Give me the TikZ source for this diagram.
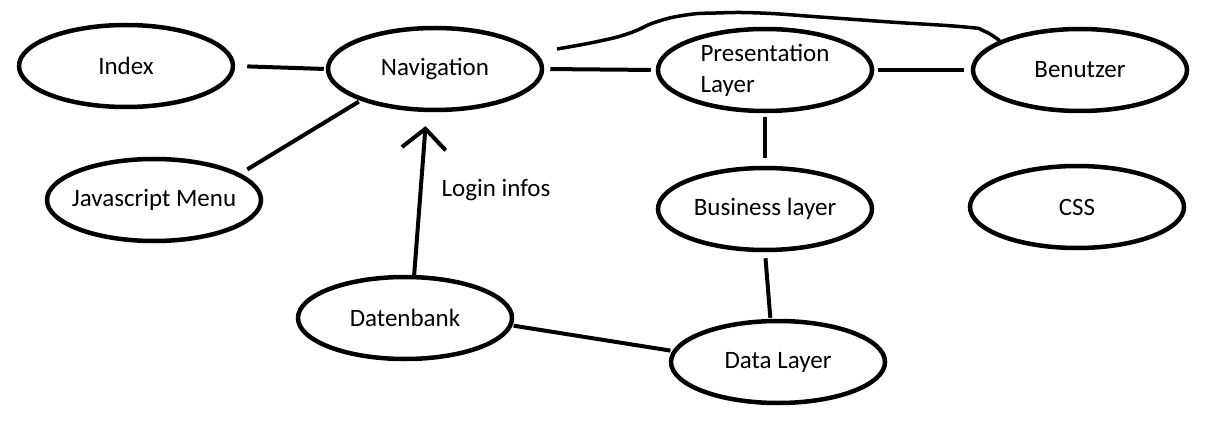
\documentclass[tikz,border=0pt]{standalone}
\usepackage{fontspec}
\setmainfont{Carlito}
\usetikzlibrary{arrows.meta,shapes.geometric}

\begin{document}
\begin{tikzpicture}[x=1pt,y=-1pt,line width=4pt,>={Straight Barb[length=20pt,width=44pt]},
  burbuja/.style={draw,ellipse,line width=4.5pt,minimum width=214pt,minimum height=82pt,
    inner xsep=-30pt,inner ysep=0pt,align=left,font=\fontsize{25}{31}\selectfont}]
  \useasboundingbox (0,0) rectangle (1214,422);
  % capas y modulos
  \node[burbuja] (idx) at (126,66){Index};
  \node[burbuja] (nav) at (435,69){Navigation};
  \node[burbuja] (js) at (154,200){Javascript Menu};
  \node[burbuja] (pres) at (765,70){Presentation\\Layer};
  \node[burbuja] (ben) at (1080,70){Benutzer};
  \node[burbuja] (bus) at (765,209){Business layer};
  \node[burbuja] (css) at (1077,207){CSS};
  \node[burbuja] (dat) at (405,318){Datenbank};
  \node[burbuja] (data) at (778,362){Data Layer};
  % lineas entre nodos
  \draw[shorten <=12pt,shorten >=2pt] (idx.0) -- (nav.180);
  \draw[shorten <=8pt,shorten >=2pt] (js.17) -- (nav.203);
  \draw[shorten <=6pt,shorten >=5pt] (nav.0) -- (pres.180);
  \draw[shorten <=4pt,shorten >=7pt] (pres.0) -- (ben.180);
  \draw[shorten <=4pt,shorten >=8pt] (pres.270) -- (bus.90);
  \draw[shorten <=6pt,shorten >=1pt] (bus.270) -- (data.100);
  \draw[shorten <=1pt,shorten >=2pt] (dat.-4) -- (data.174);
  % login infos hacia arriba
  \draw[->,shorten >=14pt] (dat.78) -- (nav.259);
  \node[font=\fontsize{25}{31}\selectfont] (login) at (496,190){Login infos};
  % trazo libre hasta Benutzer
  \coordinate (kurve) at (557,49);
  \draw[line width=3.5pt] plot[smooth,tension=0.8] coordinates {(kurve) (600,41) (630,33)
    (656,22) (686,15) (716,13) (760,13) (820,17) (890,22) (965,27) (984,31) (ben.160)};
\end{tikzpicture}
\end{document}
